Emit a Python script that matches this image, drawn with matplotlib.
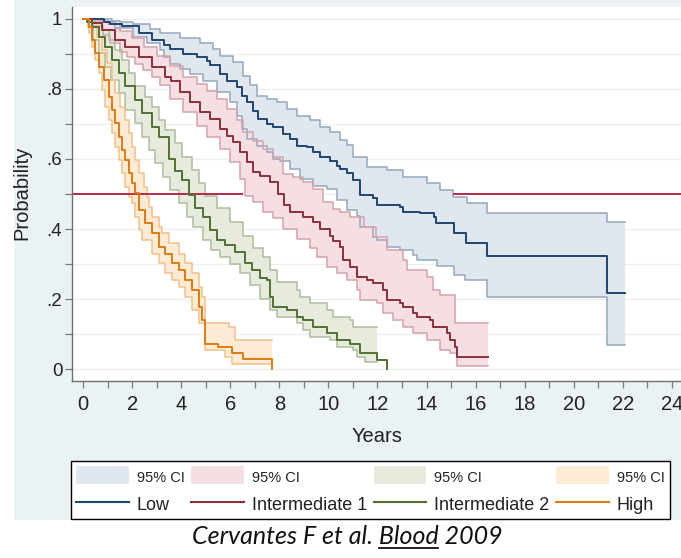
import numpy as np
import matplotlib
matplotlib.use("Agg")
import matplotlib.pyplot as plt
from matplotlib.patches import Patch, Rectangle
from matplotlib.lines import Line2D

plt.rcParams['font.family'] = ['Liberation Sans', 'DejaVu Sans']

# ---------------- data (time in years, survival probability) ----------------
low = [(0, 1.0), (0.86, 0.99), (1.1, 0.985), (1.6, 0.98), (2.27, 0.96), (2.81, 0.94), (3.3, 0.925),
       (3.55, 0.914), (4.09, 0.90), (4.63, 0.89), (5.04, 0.881), (5.18, 0.867), (5.58, 0.843),
       (5.86, 0.824), (6.26, 0.805), (6.47, 0.781), (6.67, 0.762), (6.94, 0.738), (7.14, 0.714),
       (7.48, 0.70), (7.75, 0.69), (8.16, 0.671), (8.44, 0.657), (8.71, 0.638), (9.12, 0.633),
       (9.38, 0.619), (9.66, 0.605), (10.07, 0.595), (10.34, 0.581), (10.47, 0.571), (10.76, 0.56),
       (11.0, 0.54), (11.29, 0.497), (11.83, 0.488), (11.96, 0.469), (12.9, 0.464), (13.05, 0.45),
       (13.73, 0.445), (14.3, 0.435), (14.4, 0.416), (15.1, 0.388), (15.6, 0.36), (16.46, 0.323),
       (21.35, 0.217), (22.1, 0.217)]
low_upper = [(0, 1.0), (1.2, 0.995), (1.5, 0.99), (2.04, 0.985), (2.73, 0.97), (3.14, 0.96), (3.95, 0.946),
             (4.77, 0.931), (5.31, 0.914), (5.58, 0.895), (6.13, 0.876), (6.53, 0.838), (6.81, 0.81),
             (7.08, 0.781), (7.48, 0.771), (7.89, 0.762), (8.30, 0.743), (8.71, 0.724), (9.25, 0.71),
             (9.66, 0.69), (10.07, 0.676), (10.47, 0.655), (10.75, 0.64), (11.0, 0.606), (11.57, 0.577),
             (12.39, 0.569), (13.04, 0.549), (14.02, 0.531), (14.55, 0.511), (15.08, 0.492),
             (15.65, 0.474), (16.46, 0.446), (21.35, 0.42), (22.1, 0.42)]
low_lower = [(0, 1.0), (0.77, 0.991), (1.30, 0.974), (2.04, 0.949), (2.6, 0.93), (3.14, 0.911), (3.3, 0.89),
             (3.55, 0.871), (3.95, 0.857), (4.36, 0.843), (4.90, 0.824), (5.45, 0.79), (5.99, 0.762),
             (6.26, 0.724), (6.47, 0.686), (6.67, 0.657), (7.08, 0.638), (7.48, 0.619), (7.75, 0.60),
             (8.03, 0.595), (8.44, 0.571), (8.84, 0.543), (9.38, 0.524), (9.93, 0.514), (10.34, 0.483),
             (10.75, 0.455), (11.15, 0.436), (11.29, 0.407), (11.83, 0.378), (11.97, 0.369),
             (12.37, 0.35), (12.92, 0.34), (13.46, 0.326), (13.6, 0.312), (14.41, 0.293), (15.1, 0.27),
             (15.57, 0.254), (16.46, 0.206), (21.35, 0.069), (22.1, 0.069)]

int1 = [(0, 1.0), (0.37, 0.989), (0.77, 0.969), (1.30, 0.94), (1.71, 0.92), (2.28, 0.891), (2.81, 0.863),
        (3.34, 0.834), (3.6, 0.824), (3.95, 0.79), (4.36, 0.762), (4.77, 0.733), (5.18, 0.714),
        (5.58, 0.686), (5.86, 0.667), (6.13, 0.648), (6.40, 0.619), (6.67, 0.59), (6.94, 0.562),
        (7.21, 0.552), (7.6, 0.535), (7.95, 0.50), (8.2, 0.47), (8.44, 0.45), (8.98, 0.435), (9.38, 0.42),
        (9.66, 0.40), (10.07, 0.38), (10.2, 0.365), (10.47, 0.35), (10.61, 0.311), (10.88, 0.292),
        (11.15, 0.264), (11.56, 0.254), (11.83, 0.245), (12.24, 0.226), (12.37, 0.197), (12.92, 0.188),
        (13.05, 0.178), (13.46, 0.159), (13.6, 0.15), (14.14, 0.14), (14.27, 0.121), (14.82, 0.102),
        (14.96, 0.083), (15.16, 0.064), (15.23, 0.035), (16.5, 0.035)]
int1_upper = [(0, 1.0), (0.5, 0.995), (1.0, 0.985), (1.5, 0.965), (2.0, 0.945), (2.5, 0.92), (3.0, 0.895),
              (3.55, 0.865), (4.09, 0.833), (4.63, 0.814), (5.04, 0.795), (5.45, 0.771), (5.86, 0.743),
              (6.26, 0.71), (6.53, 0.676), (6.94, 0.652), (7.35, 0.629), (7.75, 0.605), (8.16, 0.557),
              (8.57, 0.548), (8.98, 0.533), (9.38, 0.514), (9.79, 0.476), (10.2, 0.457), (10.47, 0.448),
              (10.88, 0.434), (11.45, 0.406), (11.95, 0.377), (12.4, 0.34), (13.04, 0.311), (13.2, 0.283),
              (14.0, 0.263), (14.26, 0.226), (14.55, 0.211), (15.16, 0.131), (16.5, 0.131)]
int1_lower = [(0, 1.0), (0.4, 0.98), (0.8, 0.955), (1.1, 0.93), (1.5, 0.905), (1.8, 0.89), (2.1, 0.87),
              (2.44, 0.854), (2.8, 0.835), (3.14, 0.81), (3.55, 0.771), (4.09, 0.733), (4.63, 0.695),
              (5.04, 0.662), (5.58, 0.629), (5.99, 0.59), (6.40, 0.543), (6.60, 0.495), (6.94, 0.476),
              (7.35, 0.448), (7.75, 0.432), (8.16, 0.40), (8.71, 0.371), (9.25, 0.345), (9.52, 0.321),
              (9.93, 0.292), (10.34, 0.273), (10.75, 0.254), (11.15, 0.226), (11.29, 0.197),
              (11.96, 0.188), (12.24, 0.159), (12.65, 0.14), (13.04, 0.121), (13.45, 0.102),
              (14.0, 0.083), (14.55, 0.054), (14.96, 0.045), (15.23, 0.01), (16.5, 0.01)]

int2 = [(0, 1.0), (0.15, 0.99), (0.37, 0.978), (0.64, 0.949), (0.91, 0.921), (1.18, 0.883), (1.45, 0.845),
        (1.72, 0.807), (2.13, 0.769), (2.40, 0.731), (2.81, 0.692), (3.08, 0.664), (3.49, 0.60),
        (3.76, 0.565), (4.03, 0.54), (4.31, 0.496), (4.58, 0.46), (4.90, 0.435), (5.18, 0.397),
        (5.45, 0.369), (5.80, 0.355), (6.21, 0.335), (6.61, 0.302), (6.89, 0.283), (7.21, 0.259),
        (7.48, 0.254), (7.62, 0.207), (7.75, 0.178), (8.30, 0.169), (8.71, 0.15), (8.98, 0.14),
        (9.38, 0.121), (9.93, 0.102), (10.34, 0.083), (10.88, 0.073), (11.29, 0.045), (11.96, 0.026),
        (12.37, 0.0)]
int2_upper = [(0, 1.0), (0.5, 0.988), (0.77, 0.969), (1.04, 0.94), (1.32, 0.911), (1.59, 0.883),
              (1.86, 0.845), (2.13, 0.807), (2.54, 0.778), (2.81, 0.749), (3.08, 0.711), (3.35, 0.683),
              (3.76, 0.645), (4.03, 0.607), (4.44, 0.569), (4.71, 0.531), (4.98, 0.495), (5.45, 0.46),
              (6.0, 0.42), (6.53, 0.38), (6.94, 0.345), (7.35, 0.32), (7.62, 0.283), (7.89, 0.25),
              (8.71, 0.226), (8.84, 0.207), (9.25, 0.19), (9.93, 0.169), (10.2, 0.149), (10.88, 0.14),
              (11.02, 0.121), (11.96, 0.121)]
int2_lower = [(0, 1.0), (0.2, 0.978), (0.4, 0.94), (0.65, 0.902), (0.9, 0.864), (1.15, 0.826), (1.45, 0.788),
              (1.72, 0.74), (2.1, 0.702), (2.4, 0.664), (2.7, 0.626), (2.95, 0.588), (3.25, 0.549),
              (3.55, 0.511), (3.9, 0.473), (4.24, 0.435), (4.5, 0.406), (4.9, 0.369), (5.2, 0.34),
              (5.6, 0.32), (6.0, 0.30), (6.4, 0.273), (6.8, 0.24), (7.2, 0.20), (7.62, 0.169), (7.89, 0.15),
              (8.71, 0.131), (8.98, 0.112), (9.25, 0.092), (10.07, 0.083), (10.34, 0.064), (11.0, 0.054),
              (11.15, 0.035), (11.5, 0.02), (11.96, 0.02)]

high = [(0, 1.0), (0.23, 0.978), (0.37, 0.94), (0.5, 0.902), (0.64, 0.864), (0.84, 0.826), (1.04, 0.778),
        (1.18, 0.74), (1.32, 0.702), (1.45, 0.664), (1.59, 0.626), (1.72, 0.597), (1.86, 0.559),
        (2.0, 0.53), (2.13, 0.502), (2.27, 0.454), (2.54, 0.416), (2.81, 0.388), (3.08, 0.349),
        (3.35, 0.33), (3.63, 0.302), (3.9, 0.283), (4.17, 0.254), (4.44, 0.226), (4.71, 0.178),
        (4.85, 0.14), (4.98, 0.073), (5.5, 0.064), (6.07, 0.045), (6.5, 0.03), (7.7, 0.0)]
high_upper = [(0, 1.0), (0.37, 0.988), (0.57, 0.949), (0.77, 0.911), (0.98, 0.873), (1.18, 0.826),
              (1.32, 0.788), (1.52, 0.749), (1.72, 0.711), (1.86, 0.673), (2.0, 0.635), (2.13, 0.597),
              (2.27, 0.559), (2.47, 0.521), (2.61, 0.492), (2.67, 0.464), (2.81, 0.435), (3.08, 0.406),
              (3.22, 0.388), (3.49, 0.359), (3.9, 0.33), (4.17, 0.302), (4.44, 0.273), (4.71, 0.235),
              (4.85, 0.207), (4.98, 0.131), (5.94, 0.121), (6.2, 0.083), (7.7, 0.083)]
high_lower = [(0, 1.0), (0.23, 0.959), (0.37, 0.921), (0.5, 0.883), (0.64, 0.845), (0.77, 0.797),
              (0.91, 0.749), (1.04, 0.711), (1.18, 0.673), (1.32, 0.635), (1.45, 0.597), (1.59, 0.559),
              (1.72, 0.521), (1.86, 0.492), (2.0, 0.473), (2.13, 0.435), (2.27, 0.397), (2.41, 0.369),
              (2.81, 0.33), (3.08, 0.302), (3.35, 0.273), (3.63, 0.254), (3.9, 0.235), (4.17, 0.207),
              (4.44, 0.169), (4.71, 0.131), (4.98, 0.055), (5.8, 0.035), (6.07, 0.015), (7.7, 0.015)]

group_labels = ["Low", "Intermediate 1", "Intermediate 2", "High"]
ci_label = "95% CI"
median_level = 0.5
median_visible_spans = [(-0.45, 6.52), (15.08, 24.4)]
x_major = list(range(0, 25, 2))
x_minor = list(range(1, 25, 2))
y_major = [0, 0.2, 0.4, 0.6, 0.8, 1.0]
y_major_labels = ["0", ".2", ".4", ".6", ".8", "1"]
y_minor = [0.1, 0.3, 0.5, 0.7, 0.9]
caption_pre = "Cervantes F et al. "
caption_journal = "Blood"
caption_post = " 2009"

# ---------------- styling ----------------
line_colors = ["#1d4670", "#8e2f3c", "#4f7130", "#e07b10"]
edge_colors = ["#95a7bb", "#d6a2aa", "#adbd9d", "#f2c08a"]
fill_colors = ["#e1e7ef", "#f5dfe2", "#e6ebdd", "#fdebd6"]
ref_color = "#b8294d"

W, H = 681, 558
fig = plt.figure(figsize=(W / 100, H / 100), dpi=100)
fig.patch.set_facecolor("white")
fig.patches.append(Rectangle((14 / W, 38 / H), 1 - 14 / W, 1 - 38 / H, transform=fig.transFigure,
                             facecolor="#eaf2f3", edgecolor="none", zorder=-10))

ax = fig.add_axes([72 / W, (H - 381) / H, (W - 72) / W, (381 - 7) / H])
ax.set_facecolor("white")
ax.set_xlim(-0.45, 24.37)
ax.set_ylim(-0.034, 1.034)


def unzip(pairs):
    t = np.array([p[0] for p in pairs], dtype=float)
    s = np.array([p[1] for p in pairs], dtype=float)
    return t, s


def step_value(pairs, grid):
    t, s = unzip(pairs)
    idx = np.searchsorted(t, grid, side="right") - 1
    return s[np.clip(idx, 0, len(s) - 1)]


series = [(low, low_upper, low_lower), (int1, int1_upper, int1_lower),
          (int2, int2_upper, int2_lower), (high, high_upper, high_lower)]

# bands
for i, (main, up, lo) in enumerate(series):
    grid = np.union1d(unzip(up)[0], unzip(lo)[0])
    ax.fill_between(grid, step_value(lo, grid), step_value(up, grid), step="post",
                    facecolor=fill_colors[i], edgecolor="none", lw=0, zorder=1)
for i, (main, up, lo) in enumerate(series):
    for b in (up, lo):
        t, s = unzip(b)
        ax.step(t, s, where="post", color=edge_colors[i], lw=1.1, zorder=2)

# reference line at the median
for x0, x1 in median_visible_spans:
    ax.hlines(median_level, x0, x1, colors=ref_color, lw=1.4, zorder=2.5)

for i, (main, up, lo) in enumerate(series):
    t, s = unzip(main)
    ax.step(t, s, where="post", color=line_colors[i], lw=1.4, zorder=3)

# axes styling
ax.set_xticks(x_major)
ax.set_xticks(x_minor, minor=True)
ax.set_yticks(y_major)
ax.set_yticklabels(y_major_labels)
ax.set_yticks(y_minor, minor=True)
ax.grid(axis="y", which="both", color="#e9f0f2", lw=0.9, zorder=0)
ax.set_axisbelow(True)
for sp in ("top", "right"):
    ax.spines[sp].set_visible(False)
for sp in ("left", "bottom"):
    ax.spines[sp].set_color("#6e6e6e")
    ax.spines[sp].set_linewidth(1.0)
ax.tick_params(axis="both", which="both", direction="out", length=5, width=0.9, color="#7a7a7a")
ax.tick_params(axis="x", which="major", labelsize=14.5, pad=5, labelcolor="#222222")
ax.tick_params(axis="y", which="major", labelsize=13.5, pad=2, labelcolor="#222222")

fig.text(22 / W, (H - 193) / H, "Probability", rotation=90, ha="center", va="center",
         fontsize=14.5, color="#222222")
fig.text(377 / W, (H - 437) / H, "Years", ha="center", va="center", fontsize=14.5, color="#222222")

# legend
handles, labels = [], []
for i, g in enumerate(group_labels):
    handles.append(Patch(facecolor=fill_colors[i], edgecolor="none"))
    labels.append(ci_label)
    handles.append(Line2D([], [], color=line_colors[i], lw=1.5))
    labels.append(g)
leg = fig.legend(handles, labels, ncol=4, loc="center",
                 bbox_to_anchor=(71 / W, 37 / H, 599 / W, 62 / H), mode="expand",
                 fontsize=13, frameon=True, fancybox=False, edgecolor="black", facecolor="white",
                 framealpha=1, handlelength=2.9, handletextpad=0.45, handleheight=1.15,
                 labelspacing=0.55, borderpad=0.3, borderaxespad=0, columnspacing=0.5)
leg.get_frame().set_linewidth(1.0)
for txt in leg.get_texts():
    txt.set_color("#222222")
    if txt.get_text() == ci_label:
        txt.set_fontsize(10.5)

# caption with underlined journal name
cap_x, cap_y = 347 / W, (H - 537) / H
cap_font = dict(fontsize=18, style="italic", family=["Lato", "DejaVu Sans"], color="#111111")
full = caption_pre + caption_journal + caption_post
cap = fig.text(cap_x, cap_y, full, ha="center", va="center", **cap_font)
fig.canvas.draw()
r = fig.canvas.get_renderer()
bb = cap.get_window_extent(r)
tmp1 = fig.text(0, 0, (caption_pre + caption_journal).strip(), **cap_font)
tmp2 = fig.text(0, 0, caption_journal, **cap_font)
w_upto = tmp1.get_window_extent(r).width
w_j = tmp2.get_window_extent(r).width
tmp1.remove()
tmp2.remove()
x_end = bb.x0 + w_upto
x_start = x_end - w_j
y_line = bb.y0 + 1
fig.add_artist(Line2D([x_start / W, x_end / W], [y_line / H, y_line / H], transform=fig.transFigure,
                      color="#111111", lw=1.3))

fig.savefig("out.png", dpi=100)
